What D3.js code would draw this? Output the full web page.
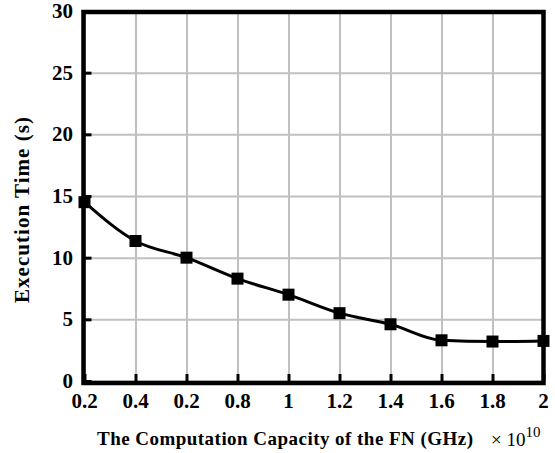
<!DOCTYPE html>
<html>
<head>
<meta charset="utf-8">
<script src="https://cdn.jsdelivr.net/npm/d3@7"></script>
<style>
    body { margin: 0; background: #fff; }
    text { font-family: "Liberation Serif", "Times New Roman", serif; }
</style>
</head>
<body>
<svg id="chart" width="555" height="453"></svg>
<script>
// values
let capacity = [0.2, 0.4, 0.6, 0.8, 1.0, 1.2, 1.4, 1.6, 1.8, 2.0];
let execTime = [14.5, 11.35, 10.0, 8.3, 7.0, 5.5, 4.6, 3.3, 3.2, 3.25];
// tick labels as printed (third one really says 0.2 in the original)
let xTickLabels = ['0.2', '0.4', '0.2', '0.8', '1', '1.2', '1.4', '1.6', '1.8', '2'];
let yTicks = [0, 5, 10, 15, 20, 25, 30];

let svg = d3.select("#chart");
let plotLeft = 84.5, plotRight = 543.5, plotTop = 11, plotBottom = 381;

let xScale = d3.scaleLinear().domain([0.2, 2]).range([plotLeft, plotRight]);
let yScale = d3.scaleLinear().domain([0, 30]).range([plotBottom, plotTop]);

//grid
svg.append('g')
    .attr('transform', `translate(0, ${plotBottom})`)
    .call(d3.axisBottom(xScale).tickValues(capacity).tickSize(-(plotBottom - plotTop)).tickFormat(''))
    .call(g => g.select('.domain').remove())
    .call(g => g.selectAll('line').attr('stroke', '#c0c0c0').attr('stroke-width', 2));

svg.append('g')
    .attr('transform', `translate(${plotLeft}, 0)`)
    .call(d3.axisLeft(yScale).tickValues(yTicks).tickSize(-(plotRight - plotLeft)).tickFormat(''))
    .call(g => g.select('.domain').remove())
    .call(g => g.selectAll('line').attr('stroke', '#c0c0c0').attr('stroke-width', 2));

//inner tick marks
svg.append('g')
    .attr('transform', `translate(0, ${plotBottom})`)
    .call(d3.axisTop(xScale).tickValues(capacity).tickSize(7).tickFormat(''))
    .call(g => g.select('.domain').remove())
    .call(g => g.selectAll('line').attr('stroke', '#000').attr('stroke-width', 3));

svg.append('g')
    .attr('transform', `translate(${plotLeft}, 0)`)
    .call(d3.axisRight(yScale).tickValues(yTicks).tickSize(7).tickFormat(''))
    .call(g => g.select('.domain').remove())
    .call(g => g.selectAll('line').attr('stroke', '#000').attr('stroke-width', 3));

//frame
svg.append('rect')
    .attr('x', plotLeft - 1)
    .attr('y', plotTop + 1)
    .attr('width', plotRight - plotLeft + 1)
    .attr('height', plotBottom - plotTop + 1)
    .attr('fill', 'none')
    .attr('stroke', '#000')
    .attr('stroke-width', 4.5);

//tick labels
svg.append('g').selectAll('text')
    .data(yTicks)
    .enter()
    .append('text')
    .attr('x', 73)
    .attr('y', d => yScale(d) + 7)
    .attr('text-anchor', 'end')
    .attr('font-size', 21)
    .attr('font-weight', 'bold')
    .text(d => d);

svg.append('g').selectAll('text')
    .data(capacity)
    .enter()
    .append('text')
    .attr('x', d => xScale(d))
    .attr('y', 408)
    .attr('text-anchor', 'middle')
    .attr('font-size', 21)
    .attr('font-weight', 'bold')
    .text((d, i) => xTickLabels[i]);

//line
let line = d3.line()
    .x((d, i) => xScale(capacity[i]))
    .y(d => yScale(d))
    .curve(d3.curveMonotoneX);

svg.append('path')
    .datum(execTime)
    .attr('d', line)
    .attr('fill', 'none')
    .attr('stroke', '#000')
    .attr('stroke-width', 3);

svg.append('g').selectAll('rect')
    .data(execTime)
    .enter()
    .append('rect')
    .attr('x', (d, i) => xScale(capacity[i]) - 6)
    .attr('y', d => yScale(d) - 6)
    .attr('width', 12)
    .attr('height', 12)
    .attr('fill', '#000');

//labels
svg.append('text')
    .attr('transform', 'translate(29, 210) rotate(-90)')
    .attr('text-anchor', 'middle')
    .attr('font-size', 21)
    .attr('font-weight', 'bold')
    .attr('textLength', 186)
    .attr('lengthAdjust', 'spacing')
    .text('Execution Time (s)');

svg.append('text')
    .attr('x', 97)
    .attr('y', 445)
    .attr('font-size', 19)
    .attr('font-weight', 'bold')
    .attr('textLength', 376)
    .attr('lengthAdjust', 'spacing')
    .text('The Computation Capacity of the FN (GHz)');

let mult = svg.append('text')
    .attr('x', 491)
    .attr('y', 446)
    .attr('font-size', 19);
mult.append('tspan').text('\u00d7 10');
mult.append('tspan').attr('dy', -9).attr('font-size', 15).text('10');
</script>
</body>
</html>
